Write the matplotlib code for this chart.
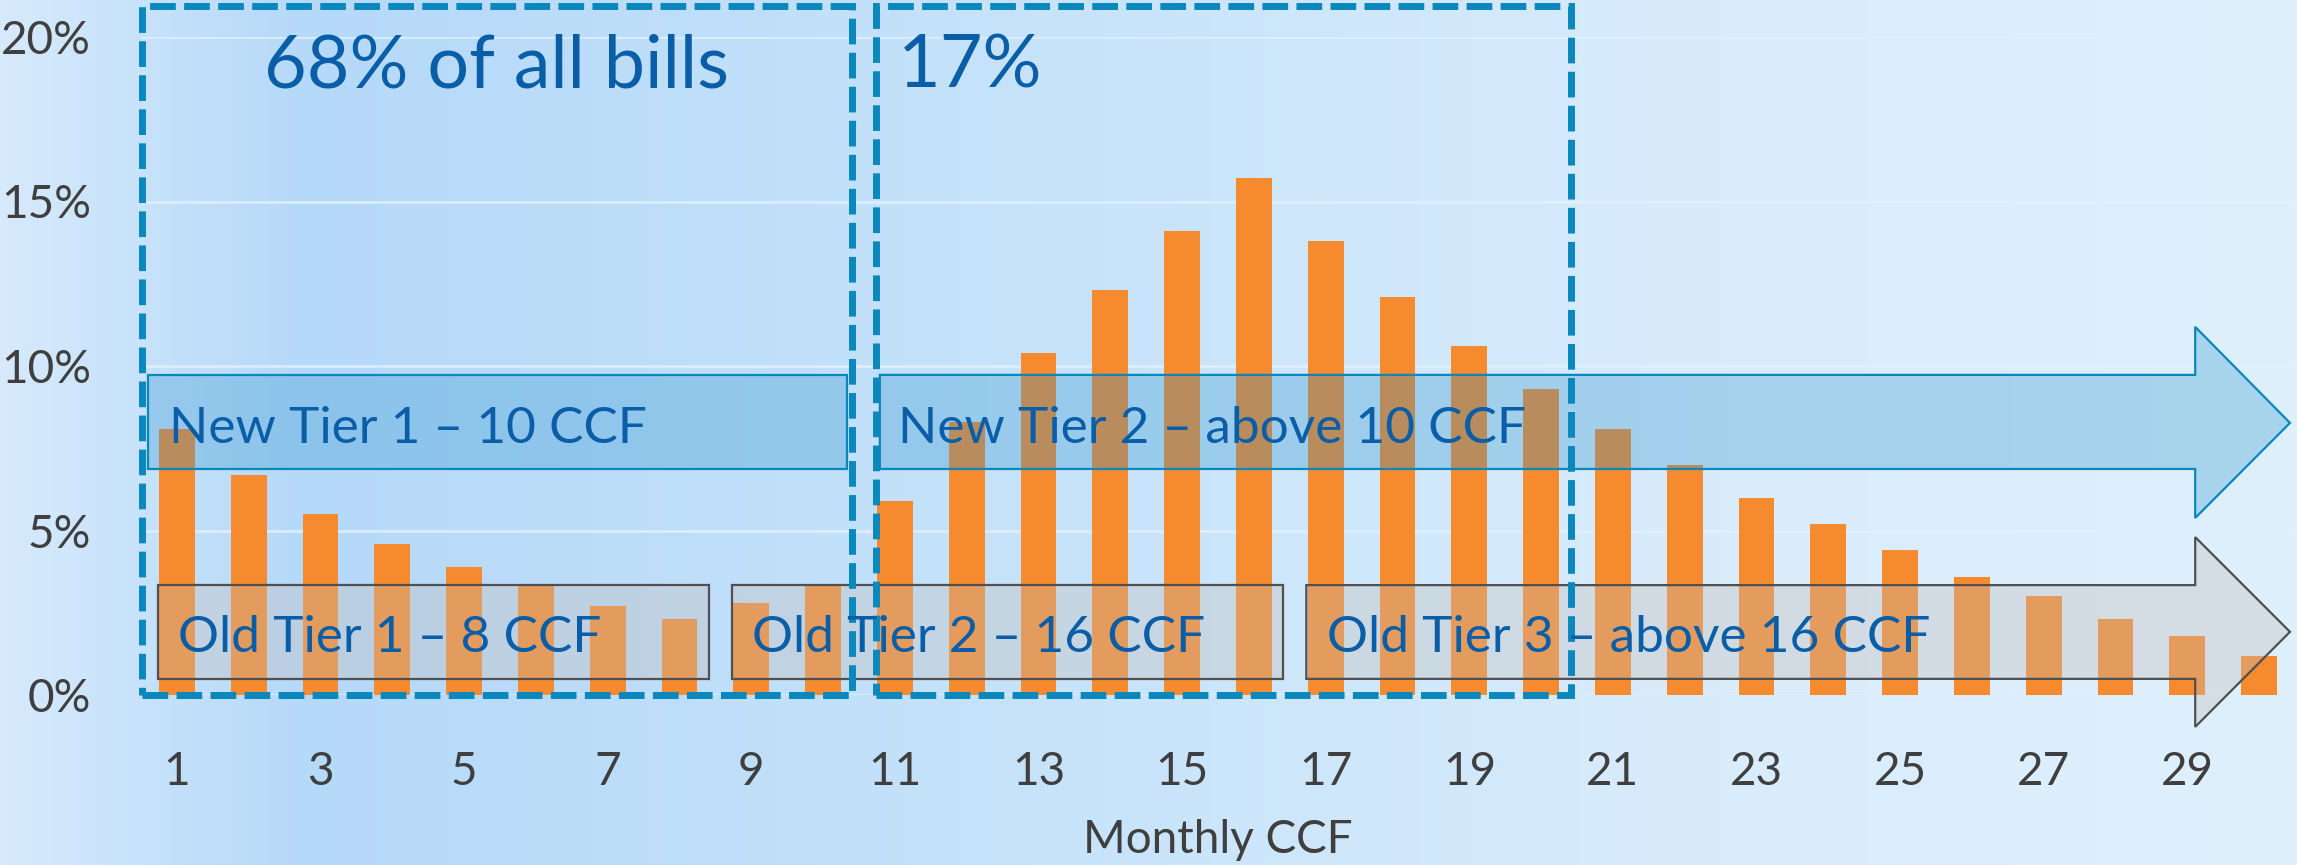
import numpy as np
import matplotlib
matplotlib.use("Agg")
import matplotlib.pyplot as plt
from matplotlib.colors import LinearSegmentedColormap
from matplotlib.patches import Rectangle, Polygon

# Monthly CCF usage distribution (share of bills)
ccf = list(range(1, 31))
share = [8.1, 6.7, 5.5, 4.6, 3.9, 3.3, 2.7, 2.3, 2.8, 3.3,
         5.9, 8.3, 10.4, 12.3, 14.1, 15.7, 13.8, 12.1, 10.6, 9.3,
         8.1, 7.0, 6.0, 5.2, 4.4, 3.6, 3.0, 2.3, 1.8, 1.2]
share = [v / 100 for v in share]
tick_vals = list(range(1, 30, 2))
ytick_vals = [0, 0.05, 0.10, 0.15, 0.20]
ytick_labels = ["0%", "5%", "10%", "15%", "20%"]

plt.rcParams["font.family"] = ["Lato", "DejaVu Sans"]

fig = plt.figure(figsize=(22.97, 8.65), dpi=100)

# background gradient
bg = fig.add_axes([0, 0, 1, 1], zorder=-10)
cmap = LinearSegmentedColormap.from_list(
    "bg", [(0, "#d6eafc"), (0.13, "#b5d9f9"), (0.45, "#c6e3fa"),
           (0.75, "#d9ecfc"), (1, "#dff0fd")])
grad = np.linspace(0, 1, 512).reshape(1, -1)
bg.imshow(grad, aspect="auto", cmap=cmap, extent=[0, 1, 0, 1])
bg.axis("off")

ax = fig.add_axes([141 / 2297, 170 / 865, 2154 / 2297, 658 / 865])
ax.patch.set_alpha(0)

ax.bar(ccf, share, width=0.5, color="#f68a2e", zorder=2)

ax.set_xlim(0.5, 30.5)
ax.set_ylim(0, 0.20)
ax.set_xticks(tick_vals)
ax.set_yticks(ytick_vals)
ax.set_yticklabels(ytick_labels)
ax.tick_params(axis="both", length=0, labelsize=33, colors="#3f3f3f")
ax.tick_params(axis="y", pad=36)
ax.tick_params(axis="x", pad=40)
ax.set_xlabel("Monthly CCF", fontsize=33, color="#3f3f3f", labelpad=19)
for s in ax.spines.values():
    s.set_visible(False)
ax.grid(axis="y", color="#e2f1fd", lw=2, alpha=0.8, zorder=1)
ax.set_axisbelow(True)

blue_txt = "#0a5ea8"
grey_fill = "#c4bdb8"

# new tiers (blue)
ax.add_patch(Rectangle((0.60, 0.0687), 9.73, 0.0286, facecolor="#2d93cc",
                       alpha=0.3, edgecolor="none", zorder=3))
ax.add_patch(Rectangle((0.60, 0.0687), 9.73, 0.0286, facecolor="none",
                       edgecolor="#0a87bd", lw=1.6, zorder=3))
arrow2 = [(10.79, 0.0687), (29.11, 0.0687), (29.11, 0.0538), (30.43, 0.0827),
          (29.11, 0.1119), (29.11, 0.0973), (10.79, 0.0973)]
ax.add_patch(Polygon(arrow2, closed=True, facecolor="#2d93cc", alpha=0.3,
                     edgecolor="none", zorder=3, clip_on=False))
ax.add_patch(Polygon(arrow2, closed=True, facecolor="none",
                     edgecolor="#0a87bd", lw=1.6, zorder=3, clip_on=False))

# old tiers (grey)
for x0, w in [(0.74, 7.67), (8.73, 7.68)]:
    ax.add_patch(Rectangle((x0, 0.0049), w, 0.0285, facecolor=grey_fill,
                           alpha=0.35, edgecolor="none", zorder=3))
    ax.add_patch(Rectangle((x0, 0.0049), w, 0.0285, facecolor="none",
                           edgecolor="#505050", lw=1.6, zorder=3))
arrow3 = [(16.73, 0.0049), (29.11, 0.0049), (29.11, -0.0097), (30.43, 0.0192),
          (29.11, 0.0480), (29.11, 0.0334), (16.73, 0.0334)]
ax.add_patch(Polygon(arrow3, closed=True, facecolor=grey_fill, alpha=0.35,
                     edgecolor="none", zorder=3, clip_on=False))
ax.add_patch(Polygon(arrow3, closed=True, facecolor="none",
                     edgecolor="#505050", lw=1.6, zorder=3, clip_on=False))

ax.text(0.89, 0.0766, "New Tier 1 \u2013 10 CCF", fontsize=37, color=blue_txt,
        va="baseline", zorder=5)
ax.text(11.04, 0.0766, "New Tier 2 \u2013 above 10 CCF", fontsize=37,
        color=blue_txt, va="baseline", zorder=5)
ax.text(1.02, 0.0132, "Old Tier 1 \u2013 8 CCF", fontsize=37, color=blue_txt,
        va="baseline", zorder=5)
ax.text(9.01, 0.0132, "Old Tier 2 \u2013 16 CCF", fontsize=37, color=blue_txt,
        va="baseline", zorder=5)
ax.text(17.02, 0.0132, "Old Tier 3 \u2013 above 16 CCF", fontsize=37,
        color=blue_txt, va="baseline", zorder=5)

# dashed groupings
dash = dict(fill=False, edgecolor="#0a87bd", lw=5, linestyle=(0, (3.7, 1.2)),
            zorder=4, clip_on=False)
ax.add_patch(Rectangle((0.51, 0), 9.89, 0.2094, **dash))
ax.add_patch(Rectangle((10.74, 0), 9.68, 0.2094, **dash))
ax.text(2.21, 0.1845, "68% of all bills", fontsize=53, color=blue_txt,
        va="baseline", zorder=5)
ax.text(11.04, 0.1845, "17%", fontsize=53, color=blue_txt, va="baseline",
        zorder=5)

fig.savefig("out.png", dpi=100)
